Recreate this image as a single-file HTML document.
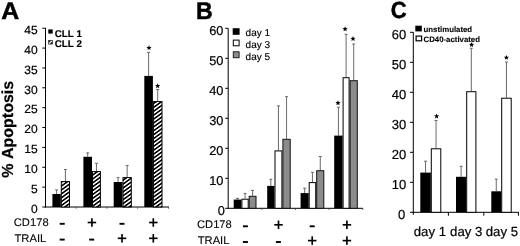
<!DOCTYPE html>
<html><head><meta charset="utf-8"><title>Figure</title>
<style>
html,body{margin:0;padding:0;background:#fff;}
body{width:520px;height:246px;overflow:hidden;}
svg{display:block;will-change:transform;}
text{font-family:"Liberation Sans", sans-serif;fill:#000;text-rendering:geometricPrecision;font-kerning:none;stroke:#000;stroke-width:0.2px;}
</style></head>
<body>
<svg width="520" height="246" viewBox="0 0 520 246">
<defs>
<pattern id="hatch" patternUnits="userSpaceOnUse" width="3.15" height="4" patternTransform="rotate(54)">
<rect x="0" y="0" width="1.6" height="4" fill="#000"/>
<rect x="1.6" y="0" width="1.55" height="4" fill="#fff"/>
</pattern>
</defs>
<rect x="0" y="0" width="520" height="246" fill="#fff"/>
<text x="0" y="0" font-size="24" font-weight="bold" transform="translate(1.230 18.550) scale(1.03717 1.00535)" style="stroke-width:0.5px">A</text>
<line x1="45.50" y1="28.00" x2="45.50" y2="207.50" stroke="#000" stroke-width="1.0"/>
<line x1="45.00" y1="207.00" x2="169.00" y2="207.00" stroke="#000" stroke-width="1.0"/>
<line x1="42.30" y1="207.00" x2="45.50" y2="207.00" stroke="#000" stroke-width="1.0"/>
<text x="37.60" y="212.70" font-size="12" text-anchor="end" >0</text>
<line x1="42.30" y1="187.13" x2="45.50" y2="187.13" stroke="#000" stroke-width="1.0"/>
<text x="37.60" y="192.83" font-size="12" text-anchor="end" >5</text>
<line x1="42.30" y1="167.27" x2="45.50" y2="167.27" stroke="#000" stroke-width="1.0"/>
<text x="37.60" y="172.97" font-size="12" text-anchor="end" >10</text>
<line x1="42.30" y1="147.41" x2="45.50" y2="147.41" stroke="#000" stroke-width="1.0"/>
<text x="37.60" y="153.10" font-size="12" text-anchor="end" >15</text>
<line x1="42.30" y1="127.54" x2="45.50" y2="127.54" stroke="#000" stroke-width="1.0"/>
<text x="37.60" y="133.24" font-size="12" text-anchor="end" >20</text>
<line x1="42.30" y1="107.67" x2="45.50" y2="107.67" stroke="#000" stroke-width="1.0"/>
<text x="37.60" y="113.37" font-size="12" text-anchor="end" >25</text>
<line x1="42.30" y1="87.81" x2="45.50" y2="87.81" stroke="#000" stroke-width="1.0"/>
<text x="37.60" y="93.51" font-size="12" text-anchor="end" >30</text>
<line x1="42.30" y1="67.94" x2="45.50" y2="67.94" stroke="#000" stroke-width="1.0"/>
<text x="37.60" y="73.64" font-size="12" text-anchor="end" >35</text>
<line x1="42.30" y1="48.08" x2="45.50" y2="48.08" stroke="#000" stroke-width="1.0"/>
<text x="37.60" y="53.78" font-size="12" text-anchor="end" >40</text>
<line x1="42.30" y1="28.22" x2="45.50" y2="28.22" stroke="#000" stroke-width="1.0"/>
<text x="37.60" y="33.91" font-size="12" text-anchor="end" >45</text>
<line x1="76.20" y1="207.00" x2="76.20" y2="208.80" stroke="#444" stroke-width="0.8"/>
<line x1="106.90" y1="207.00" x2="106.90" y2="208.80" stroke="#444" stroke-width="0.8"/>
<line x1="137.60" y1="207.00" x2="137.60" y2="208.80" stroke="#444" stroke-width="0.8"/>
<line x1="168.40" y1="207.00" x2="168.40" y2="208.80" stroke="#444" stroke-width="0.8"/>
<line x1="56.60" y1="194.00" x2="56.60" y2="189.90" stroke="#6a6a6a" stroke-width="1.0"/>
<line x1="55.10" y1="189.90" x2="58.10" y2="189.90" stroke="#6a6a6a" stroke-width="1.0"/>
<line x1="65.40" y1="181.10" x2="65.40" y2="169.50" stroke="#6a6a6a" stroke-width="1.0"/>
<line x1="63.90" y1="169.50" x2="66.90" y2="169.50" stroke="#6a6a6a" stroke-width="1.0"/>
<line x1="87.70" y1="156.80" x2="87.70" y2="152.90" stroke="#6a6a6a" stroke-width="1.0"/>
<line x1="86.20" y1="152.90" x2="89.20" y2="152.90" stroke="#6a6a6a" stroke-width="1.0"/>
<line x1="96.45" y1="171.10" x2="96.45" y2="163.30" stroke="#6a6a6a" stroke-width="1.0"/>
<line x1="94.95" y1="163.30" x2="97.95" y2="163.30" stroke="#6a6a6a" stroke-width="1.0"/>
<line x1="118.10" y1="182.00" x2="118.10" y2="177.60" stroke="#6a6a6a" stroke-width="1.0"/>
<line x1="116.60" y1="177.60" x2="119.60" y2="177.60" stroke="#6a6a6a" stroke-width="1.0"/>
<line x1="127.15" y1="177.10" x2="127.15" y2="165.40" stroke="#6a6a6a" stroke-width="1.0"/>
<line x1="125.65" y1="165.40" x2="128.65" y2="165.40" stroke="#6a6a6a" stroke-width="1.0"/>
<line x1="148.60" y1="75.90" x2="148.60" y2="52.30" stroke="#6a6a6a" stroke-width="1.0"/>
<line x1="147.10" y1="52.30" x2="150.10" y2="52.30" stroke="#6a6a6a" stroke-width="1.0"/>
<line x1="157.70" y1="101.10" x2="157.70" y2="89.50" stroke="#6a6a6a" stroke-width="1.0"/>
<line x1="156.20" y1="89.50" x2="159.20" y2="89.50" stroke="#6a6a6a" stroke-width="1.0"/>
<rect x="52.40" y="194.00" width="8.40" height="13.00" fill="#000"/>
<rect x="61.30" y="181.60" width="8.20" height="25.40" fill="url(#hatch)" stroke="#000" stroke-width="1.0"/>
<rect x="83.40" y="156.80" width="8.60" height="50.20" fill="#000"/>
<rect x="92.50" y="171.60" width="7.90" height="35.40" fill="url(#hatch)" stroke="#000" stroke-width="1.0"/>
<rect x="113.70" y="182.00" width="8.80" height="25.00" fill="#000"/>
<rect x="123.00" y="177.60" width="8.30" height="29.40" fill="url(#hatch)" stroke="#000" stroke-width="1.0"/>
<rect x="144.30" y="75.90" width="8.60" height="131.10" fill="#000"/>
<rect x="153.40" y="101.60" width="8.60" height="105.40" fill="url(#hatch)" stroke="#000" stroke-width="1.0"/>
<polygon points="149.00,45.10 149.71,46.88 151.62,47.00 150.14,48.22 150.62,50.07 149.00,49.05 147.38,50.07 147.86,48.22 146.38,47.00 148.29,46.88" fill="#000"/>
<polygon points="157.70,83.20 158.41,84.98 160.32,85.10 158.84,86.32 159.32,88.17 157.70,87.15 156.08,88.17 156.56,86.32 155.08,85.10 156.99,84.98" fill="#000"/>
<rect x="48.30" y="29.40" width="4.40" height="4.20" fill="#000"/>
<rect x="48.30" y="40.00" width="4.40" height="4.30" fill="#111"/>
<line x1="48.9" y1="43.7" x2="52.1" y2="40.6" stroke="#fff" stroke-width="1.3"/>
<rect x="48.65" y="40.35" width="3.70" height="3.60" fill="none" stroke="#555" stroke-width="0.7"/>
<text x="54.70" y="37.10" font-size="9.8" font-weight="bold" text-anchor="start" style="stroke-width:0.15px" >CLL 1</text>
<text x="54.70" y="46.60" font-size="9.8" font-weight="bold" text-anchor="start" style="stroke-width:0.15px" >CLL 2</text>
<text x="0" y="0" font-size="16" font-weight="bold" text-anchor="middle" transform="translate(12.8 129.3) rotate(-90)">% Apoptosis</text>
<text x="31.20" y="225.80" font-size="11.2" text-anchor="middle" style="stroke-width:0.1px" >CD178</text>
<text x="30.40" y="242.00" font-size="11.2" text-anchor="middle" style="stroke-width:0.1px" >TRAIL</text>
<rect x="59.70" y="222.85" width="5.00" height="1.90" fill="#000"/>
<rect x="87.65" y="221.68" width="8.50" height="1.65" fill="#000"/>
<rect x="91.08" y="218.25" width="1.65" height="8.50" fill="#000"/>
<rect x="119.50" y="222.85" width="5.00" height="1.90" fill="#000"/>
<rect x="149.05" y="221.68" width="8.50" height="1.65" fill="#000"/>
<rect x="152.48" y="218.25" width="1.65" height="8.50" fill="#000"/>
<rect x="59.70" y="238.65" width="5.00" height="1.90" fill="#000"/>
<rect x="89.20" y="238.65" width="5.00" height="1.90" fill="#000"/>
<rect x="117.75" y="237.48" width="8.50" height="1.65" fill="#000"/>
<rect x="121.17" y="234.05" width="1.65" height="8.50" fill="#000"/>
<rect x="149.05" y="237.48" width="8.50" height="1.65" fill="#000"/>
<rect x="152.48" y="234.05" width="1.65" height="8.50" fill="#000"/>
<text x="0" y="0" font-size="24" font-weight="bold" transform="translate(195.903 18.600) scale(0.96333 1.00535)" style="stroke-width:0.5px">B</text>
<line x1="228.20" y1="28.30" x2="228.20" y2="208.80" stroke="#000" stroke-width="1.0"/>
<line x1="227.70" y1="208.30" x2="362.90" y2="208.30" stroke="#000" stroke-width="1.0"/>
<line x1="225.20" y1="208.30" x2="228.20" y2="208.30" stroke="#000" stroke-width="1.0"/>
<text x="224.90" y="215.17" font-size="12.8" text-anchor="end" >0</text>
<line x1="225.20" y1="178.30" x2="228.20" y2="178.30" stroke="#000" stroke-width="1.0"/>
<text x="223.40" y="185.17" font-size="12.8" text-anchor="end" >10</text>
<line x1="225.20" y1="148.30" x2="228.20" y2="148.30" stroke="#000" stroke-width="1.0"/>
<text x="223.40" y="155.17" font-size="12.8" text-anchor="end" >20</text>
<line x1="225.20" y1="118.30" x2="228.20" y2="118.30" stroke="#000" stroke-width="1.0"/>
<text x="223.40" y="125.17" font-size="12.8" text-anchor="end" >30</text>
<line x1="225.20" y1="88.30" x2="228.20" y2="88.30" stroke="#000" stroke-width="1.0"/>
<text x="223.40" y="95.17" font-size="12.8" text-anchor="end" >40</text>
<line x1="225.20" y1="58.30" x2="228.20" y2="58.30" stroke="#000" stroke-width="1.0"/>
<text x="223.40" y="65.17" font-size="12.8" text-anchor="end" >50</text>
<line x1="225.20" y1="28.30" x2="228.20" y2="28.30" stroke="#000" stroke-width="1.0"/>
<text x="223.40" y="35.17" font-size="12.8" text-anchor="end" >60</text>
<line x1="261.85" y1="208.30" x2="261.85" y2="209.90" stroke="#333" stroke-width="0.8"/>
<line x1="295.50" y1="208.30" x2="295.50" y2="209.90" stroke="#333" stroke-width="0.8"/>
<line x1="329.15" y1="208.30" x2="329.15" y2="209.90" stroke="#333" stroke-width="0.8"/>
<line x1="362.80" y1="208.30" x2="362.80" y2="209.90" stroke="#333" stroke-width="0.8"/>
<line x1="237.55" y1="199.60" x2="237.55" y2="198.40" stroke="#6a6a6a" stroke-width="1.0"/>
<line x1="236.05" y1="198.40" x2="239.05" y2="198.40" stroke="#6a6a6a" stroke-width="1.0"/>
<line x1="245.05" y1="198.70" x2="245.05" y2="193.40" stroke="#6a6a6a" stroke-width="1.0"/>
<line x1="243.55" y1="193.40" x2="246.55" y2="193.40" stroke="#6a6a6a" stroke-width="1.0"/>
<line x1="252.60" y1="195.80" x2="252.60" y2="190.40" stroke="#6a6a6a" stroke-width="1.0"/>
<line x1="251.10" y1="190.40" x2="254.10" y2="190.40" stroke="#6a6a6a" stroke-width="1.0"/>
<line x1="270.85" y1="185.90" x2="270.85" y2="179.30" stroke="#6a6a6a" stroke-width="1.0"/>
<line x1="269.35" y1="179.30" x2="272.35" y2="179.30" stroke="#6a6a6a" stroke-width="1.0"/>
<line x1="278.45" y1="150.40" x2="278.45" y2="105.90" stroke="#6a6a6a" stroke-width="1.0"/>
<line x1="276.95" y1="105.90" x2="279.95" y2="105.90" stroke="#6a6a6a" stroke-width="1.0"/>
<line x1="286.55" y1="138.80" x2="286.55" y2="96.70" stroke="#6a6a6a" stroke-width="1.0"/>
<line x1="285.05" y1="96.70" x2="288.05" y2="96.70" stroke="#6a6a6a" stroke-width="1.0"/>
<line x1="304.65" y1="193.10" x2="304.65" y2="188.20" stroke="#6a6a6a" stroke-width="1.0"/>
<line x1="303.15" y1="188.20" x2="306.15" y2="188.20" stroke="#6a6a6a" stroke-width="1.0"/>
<line x1="312.45" y1="182.10" x2="312.45" y2="172.30" stroke="#6a6a6a" stroke-width="1.0"/>
<line x1="310.95" y1="172.30" x2="313.95" y2="172.30" stroke="#6a6a6a" stroke-width="1.0"/>
<line x1="320.25" y1="170.20" x2="320.25" y2="156.50" stroke="#6a6a6a" stroke-width="1.0"/>
<line x1="318.75" y1="156.50" x2="321.75" y2="156.50" stroke="#6a6a6a" stroke-width="1.0"/>
<line x1="338.40" y1="135.60" x2="338.40" y2="107.20" stroke="#6a6a6a" stroke-width="1.0"/>
<line x1="336.90" y1="107.20" x2="339.90" y2="107.20" stroke="#6a6a6a" stroke-width="1.0"/>
<line x1="346.10" y1="77.20" x2="346.10" y2="34.30" stroke="#6a6a6a" stroke-width="1.0"/>
<line x1="344.60" y1="34.30" x2="347.60" y2="34.30" stroke="#6a6a6a" stroke-width="1.0"/>
<line x1="353.70" y1="80.20" x2="353.70" y2="44.00" stroke="#6a6a6a" stroke-width="1.0"/>
<line x1="352.20" y1="44.00" x2="355.20" y2="44.00" stroke="#6a6a6a" stroke-width="1.0"/>
<rect x="233.70" y="199.60" width="7.70" height="8.70" fill="#000"/>
<rect x="241.90" y="199.20" width="6.30" height="9.10" fill="#fff" stroke="#000" stroke-width="1.0"/>
<rect x="249.20" y="196.30" width="6.80" height="12.00" fill="#8c8c8c" stroke="#111" stroke-width="1.0"/>
<rect x="267.20" y="185.90" width="7.30" height="22.40" fill="#000"/>
<rect x="275.00" y="150.90" width="6.90" height="57.40" fill="#fff" stroke="#000" stroke-width="1.0"/>
<rect x="282.90" y="139.30" width="7.30" height="69.00" fill="#8c8c8c" stroke="#111" stroke-width="1.0"/>
<rect x="300.60" y="193.10" width="8.10" height="15.20" fill="#000"/>
<rect x="309.20" y="182.60" width="6.50" height="25.70" fill="#fff" stroke="#000" stroke-width="1.0"/>
<rect x="316.70" y="170.70" width="7.10" height="37.60" fill="#8c8c8c" stroke="#111" stroke-width="1.0"/>
<rect x="334.20" y="135.60" width="8.40" height="72.70" fill="#000"/>
<rect x="343.10" y="77.70" width="6.00" height="130.60" fill="#fff" stroke="#000" stroke-width="1.0"/>
<rect x="350.10" y="80.70" width="7.20" height="127.60" fill="#8c8c8c" stroke="#111" stroke-width="1.0"/>
<polygon points="338.00,100.30 338.71,102.08 340.62,102.20 339.14,103.42 339.62,105.27 338.00,104.25 336.38,105.27 336.86,103.42 335.38,102.20 337.29,102.08" fill="#000"/>
<polygon points="345.10,26.30 345.81,28.08 347.72,28.20 346.24,29.42 346.72,31.27 345.10,30.25 343.48,31.27 343.96,29.42 342.48,28.20 344.39,28.08" fill="#000"/>
<polygon points="353.00,36.00 353.71,37.78 355.62,37.90 354.14,39.12 354.62,40.97 353.00,39.95 351.38,40.97 351.86,39.12 350.38,37.90 352.29,37.78" fill="#000"/>
<rect x="232.70" y="28.20" width="6.90" height="6.60" fill="#000"/>
<rect x="233.30" y="40.10" width="5.80" height="5.70" fill="#fff" stroke="#000" stroke-width="1.0"/>
<rect x="233.30" y="51.80" width="5.80" height="5.90" fill="#8c8c8c" stroke="#222" stroke-width="1.0"/>
<text x="245.60" y="36.30" font-size="10" text-anchor="start" style="stroke-width:0.15px" >day 1</text>
<text x="245.60" y="47.90" font-size="10" text-anchor="start" style="stroke-width:0.15px" >day 3</text>
<text x="245.60" y="59.50" font-size="10" text-anchor="start" style="stroke-width:0.15px" >day 5</text>
<text x="214.40" y="228.00" font-size="11.2" text-anchor="middle" style="stroke-width:0.1px" >CD178</text>
<text x="213.60" y="244.20" font-size="11.2" text-anchor="middle" style="stroke-width:0.1px" >TRAIL</text>
<rect x="242.90" y="225.35" width="5.00" height="1.90" fill="#000"/>
<rect x="274.25" y="223.98" width="8.50" height="1.65" fill="#000"/>
<rect x="277.68" y="220.55" width="1.65" height="8.50" fill="#000"/>
<rect x="309.70" y="225.35" width="5.00" height="1.90" fill="#000"/>
<rect x="342.65" y="223.98" width="8.50" height="1.65" fill="#000"/>
<rect x="346.07" y="220.55" width="1.65" height="8.50" fill="#000"/>
<rect x="242.90" y="241.05" width="5.00" height="1.90" fill="#000"/>
<rect x="275.90" y="241.05" width="5.00" height="1.90" fill="#000"/>
<rect x="307.95" y="239.78" width="8.50" height="1.65" fill="#000"/>
<rect x="311.38" y="236.35" width="1.65" height="8.50" fill="#000"/>
<rect x="342.65" y="239.78" width="8.50" height="1.65" fill="#000"/>
<rect x="346.07" y="236.35" width="1.65" height="8.50" fill="#000"/>
<text x="0" y="0" font-size="24" font-weight="bold" transform="translate(390.847 18.322) scale(0.91770 0.97103)" style="stroke-width:0.5px">C</text>
<line x1="413.30" y1="32.20" x2="413.30" y2="214.80" stroke="#000" stroke-width="1.0"/>
<line x1="412.80" y1="212.30" x2="518.80" y2="212.30" stroke="#000" stroke-width="1.0"/>
<line x1="410.00" y1="212.30" x2="413.30" y2="212.30" stroke="#000" stroke-width="1.0"/>
<text x="405.30" y="218.74" font-size="13" text-anchor="end" >0</text>
<line x1="410.00" y1="182.30" x2="413.30" y2="182.30" stroke="#000" stroke-width="1.0"/>
<text x="406.20" y="188.74" font-size="13" text-anchor="end" >10</text>
<line x1="410.00" y1="152.30" x2="413.30" y2="152.30" stroke="#000" stroke-width="1.0"/>
<text x="406.20" y="158.74" font-size="13" text-anchor="end" >20</text>
<line x1="410.00" y1="122.30" x2="413.30" y2="122.30" stroke="#000" stroke-width="1.0"/>
<text x="406.20" y="128.74" font-size="13" text-anchor="end" >30</text>
<line x1="410.00" y1="92.30" x2="413.30" y2="92.30" stroke="#000" stroke-width="1.0"/>
<text x="406.20" y="98.74" font-size="13" text-anchor="end" >40</text>
<line x1="410.00" y1="62.30" x2="413.30" y2="62.30" stroke="#000" stroke-width="1.0"/>
<text x="406.20" y="68.74" font-size="13" text-anchor="end" >50</text>
<line x1="410.00" y1="32.30" x2="413.30" y2="32.30" stroke="#000" stroke-width="1.0"/>
<text x="406.20" y="38.74" font-size="13" text-anchor="end" >60</text>
<line x1="448.40" y1="212.30" x2="448.40" y2="215.70" stroke="#000" stroke-width="1.0"/>
<line x1="483.80" y1="212.30" x2="483.80" y2="215.70" stroke="#000" stroke-width="1.0"/>
<line x1="518.40" y1="212.30" x2="518.40" y2="215.70" stroke="#000" stroke-width="1.0"/>
<line x1="425.55" y1="172.60" x2="425.55" y2="161.20" stroke="#6a6a6a" stroke-width="1.0"/>
<line x1="424.05" y1="161.20" x2="427.05" y2="161.20" stroke="#6a6a6a" stroke-width="1.0"/>
<line x1="436.05" y1="148.30" x2="436.05" y2="120.50" stroke="#6a6a6a" stroke-width="1.0"/>
<line x1="434.55" y1="120.50" x2="437.55" y2="120.50" stroke="#6a6a6a" stroke-width="1.0"/>
<line x1="461.10" y1="176.80" x2="461.10" y2="166.30" stroke="#6a6a6a" stroke-width="1.0"/>
<line x1="459.60" y1="166.30" x2="462.60" y2="166.30" stroke="#6a6a6a" stroke-width="1.0"/>
<line x1="471.30" y1="91.20" x2="471.30" y2="48.30" stroke="#6a6a6a" stroke-width="1.0"/>
<line x1="469.80" y1="48.30" x2="472.80" y2="48.30" stroke="#6a6a6a" stroke-width="1.0"/>
<line x1="496.25" y1="191.30" x2="496.25" y2="179.10" stroke="#6a6a6a" stroke-width="1.0"/>
<line x1="494.75" y1="179.10" x2="497.75" y2="179.10" stroke="#6a6a6a" stroke-width="1.0"/>
<line x1="506.45" y1="97.70" x2="506.45" y2="62.00" stroke="#6a6a6a" stroke-width="1.0"/>
<line x1="504.95" y1="62.00" x2="507.95" y2="62.00" stroke="#6a6a6a" stroke-width="1.0"/>
<rect x="420.30" y="172.60" width="10.50" height="39.70" fill="#000"/>
<rect x="431.30" y="148.80" width="9.50" height="63.50" fill="#fff" stroke="#000" stroke-width="1.0"/>
<rect x="456.00" y="176.80" width="10.20" height="35.50" fill="#000"/>
<rect x="466.70" y="91.70" width="9.20" height="120.60" fill="#fff" stroke="#000" stroke-width="1.0"/>
<rect x="491.30" y="191.30" width="9.90" height="21.00" fill="#000"/>
<rect x="501.70" y="98.20" width="9.50" height="114.10" fill="#fff" stroke="#000" stroke-width="1.0"/>
<polygon points="436.60,113.50 437.31,115.28 439.22,115.40 437.74,116.62 438.22,118.47 436.60,117.45 434.98,118.47 435.46,116.62 433.98,115.40 435.89,115.28" fill="#000"/>
<polygon points="471.60,42.00 472.31,43.78 474.22,43.90 472.74,45.12 473.22,46.97 471.60,45.95 469.98,46.97 470.46,45.12 468.98,43.90 470.89,43.78" fill="#000"/>
<polygon points="506.40,54.90 507.11,56.68 509.02,56.80 507.54,58.02 508.02,59.87 506.40,58.85 504.78,59.87 505.26,58.02 503.78,56.80 505.69,56.68" fill="#000"/>
<rect x="415.30" y="25.70" width="6.50" height="5.70" fill="#000"/>
<rect x="416.10" y="36.10" width="5.50" height="4.70" fill="#fff" stroke="#000" stroke-width="1.2"/>
<text x="423.60" y="32.30" font-size="7.8" font-weight="bold" text-anchor="start" style="stroke-width:0.1px" >unstimulated</text>
<text x="423.60" y="41.70" font-size="7.8" font-weight="bold" text-anchor="start" style="stroke-width:0.1px" >CD40-activated</text>
<text x="429.90" y="236.40" font-size="13.2" text-anchor="middle" >day 1</text>
<text x="466.20" y="236.40" font-size="13.2" text-anchor="middle" >day 3</text>
<text x="501.90" y="236.40" font-size="13.2" text-anchor="middle" >day 5</text>
</svg>
</body></html>
